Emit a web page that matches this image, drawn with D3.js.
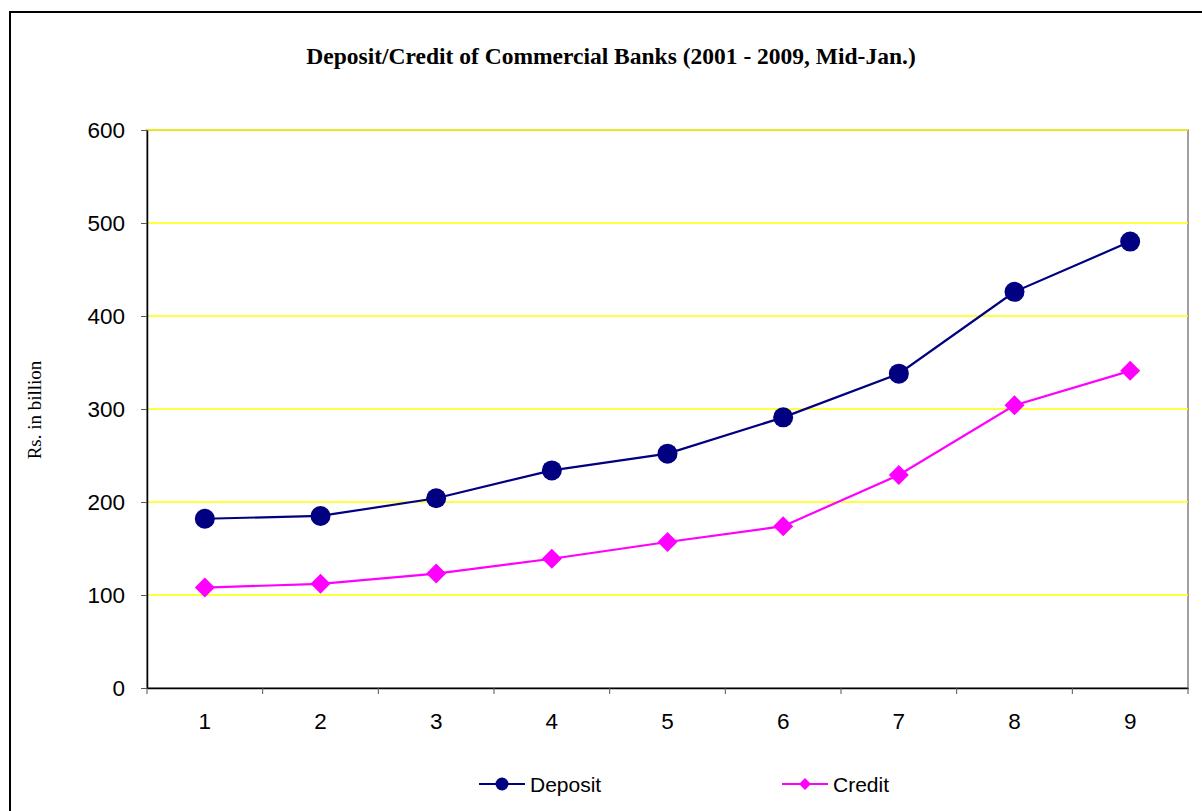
<!DOCTYPE html>
<html>
<head>
<meta charset="utf-8">
<script src="https://cdn.jsdelivr.net/npm/d3@7"></script>
<style>
  body { margin: 0; background: #fff; }
  svg { display: block; }
</style>
</head>
<body>
<div id="chart"></div>
<script>
var svgWidth = 1202;
var svgHeight = 811;

// data
var years = ["1", "2", "3", "4", "5", "6", "7", "8", "9"];
var deposit = [182, 185, 204, 234, 252, 291, 338, 426, 480];
var credit = [108, 112, 123, 139, 157, 174, 229, 304, 341];
var yTicks = [0, 100, 200, 300, 400, 500, 600];

var margin = { top: 130, right: 14, bottom: 123, left: 147 };
var width = svgWidth - margin.left - margin.right;
var height = svgHeight - margin.top - margin.bottom;

var svg = d3.select("#chart")
  .append("svg")
  .attr("width", svgWidth)
  .attr("height", svgHeight);

// outer chart frame (runs off the right/bottom edge)
svg.append("rect")
  .attr("x", 10)
  .attr("y", 12)
  .attr("width", 1210)
  .attr("height", 820)
  .attr("fill", "#fff")
  .attr("stroke", "#000")
  .attr("stroke-width", 2);

svg.append("text")
  .attr("x", 611)
  .attr("y", 64)
  .attr("text-anchor", "middle")
  .style("font-family", "'Liberation Serif', 'Times New Roman', serif")
  .style("font-weight", "bold")
  .style("font-size", "23.5px")
  .text("Deposit/Credit of Commercial Banks (2001 - 2009, Mid-Jan.)");

var chartGroup = svg.append("g")
  .attr("transform", `translate(${margin.left}, ${margin.top})`);

var xScale = d3.scaleBand()
  .domain(years)
  .range([0, width]);

var yScale = d3.scaleLinear()
  .domain([0, 600])
  .range([height, 0]);

// plot area border
chartGroup.append("rect")
  .attr("width", width)
  .attr("height", height)
  .attr("fill", "#fff")
  .attr("stroke", "#808080")
  .attr("stroke-width", 1.5);

// yellow gridlines
chartGroup.append("g")
  .selectAll("line")
  .data(yTicks.filter(d => d > 0))
  .enter()
  .append("line")
  .attr("x1", 0)
  .attr("x2", width)
  .attr("y1", d => yScale(d))
  .attr("y2", d => yScale(d))
  .attr("stroke", "#ffff00")
  .attr("stroke-width", 1.5);

// y axis
var leftAxis = d3.axisLeft(yScale)
  .tickValues(yTicks)
  .tickSizeInner(6)
  .tickSizeOuter(0)
  .tickPadding(16);

var yAxis = chartGroup.append("g").call(leftAxis);
yAxis.select(".domain").attr("stroke", "#000").attr("stroke-width", 1.5);
yAxis.selectAll(".tick line").attr("stroke", "#555");
yAxis.selectAll("text")
  .style("font-family", "'Liberation Sans', Arial, sans-serif")
  .style("font-size", "22.5px")
  .attr("fill", "#000");

// x axis: ticks at category boundaries
var bottomAxis = d3.axisBottom(xScale)
  .tickSize(0)
  .tickPadding(25);

var xAxis = chartGroup.append("g")
  .attr("transform", `translate(0, ${height})`)
  .call(bottomAxis);
xAxis.select(".domain").attr("stroke", "#000").attr("stroke-width", 1.5);
xAxis.selectAll("text")
  .style("font-family", "'Liberation Sans', Arial, sans-serif")
  .style("font-size", "22.5px")
  .attr("fill", "#000");

chartGroup.append("g")
  .selectAll("line")
  .data(d3.range(years.length + 1))
  .enter()
  .append("line")
  .attr("x1", i => i * xScale.bandwidth())
  .attr("x2", i => i * xScale.bandwidth())
  .attr("y1", height)
  .attr("y2", height + 6)
  .attr("stroke", "#555");

// y axis title
svg.append("text")
  .attr("transform", "translate(41, 410) rotate(-90)")
  .attr("text-anchor", "middle")
  .style("font-family", "'Liberation Serif', 'Times New Roman', serif")
  .style("font-size", "19px")
  .text("Rs. in billion");

var cx = (d, i) => xScale(years[i]) + xScale.bandwidth() / 2;

var line = d3.line()
  .x(cx)
  .y(d => yScale(d));

// deposit series
chartGroup.append("path")
  .datum(deposit)
  .attr("d", line)
  .attr("fill", "none")
  .attr("stroke", "#000080")
  .attr("stroke-width", 2.2);

chartGroup.append("g").selectAll("circle")
  .data(deposit)
  .enter()
  .append("circle")
  .attr("cx", cx)
  .attr("cy", d => yScale(d))
  .attr("r", 10)
  .attr("fill", "#000080");

// credit series
chartGroup.append("path")
  .datum(credit)
  .attr("d", line)
  .attr("fill", "none")
  .attr("stroke", "#ff00ff")
  .attr("stroke-width", 2.2);

var diamond = d3.symbol().type(d3.symbolSquare).size(200);

chartGroup.append("g").selectAll("path")
  .data(credit)
  .enter()
  .append("path")
  .attr("d", diamond)
  .attr("transform", (d, i) => `translate(${cx(d, i)}, ${yScale(d)}) rotate(45)`)
  .attr("fill", "#ff00ff");

// legend
var legendItems = [
  { name: "Deposit", color: "#000080", x: 479, shape: "circle" },
  { name: "Credit", color: "#ff00ff", x: 782, shape: "diamond" }
];

var legend = svg.append("g");
legendItems.forEach(function(item) {
  var g = legend.append("g").attr("transform", `translate(${item.x}, 784)`);
  g.append("line")
    .attr("x1", 0).attr("x2", 46)
    .attr("y1", 0).attr("y2", 0)
    .attr("stroke", item.color)
    .attr("stroke-width", 2.2);
  if (item.shape === "circle") {
    g.append("circle").attr("cx", 23).attr("r", 6.5).attr("fill", item.color);
  } else {
    g.append("path")
      .attr("d", d3.symbol().type(d3.symbolSquare).size(70))
      .attr("transform", "translate(23, 0) rotate(45)")
      .attr("fill", item.color);
  }
  g.append("text")
    .attr("x", 51)
    .attr("y", 8)
    .style("font-family", "'Liberation Sans', Arial, sans-serif")
    .style("font-size", "21px")
    .text(item.name);
});
</script>
</body>
</html>
